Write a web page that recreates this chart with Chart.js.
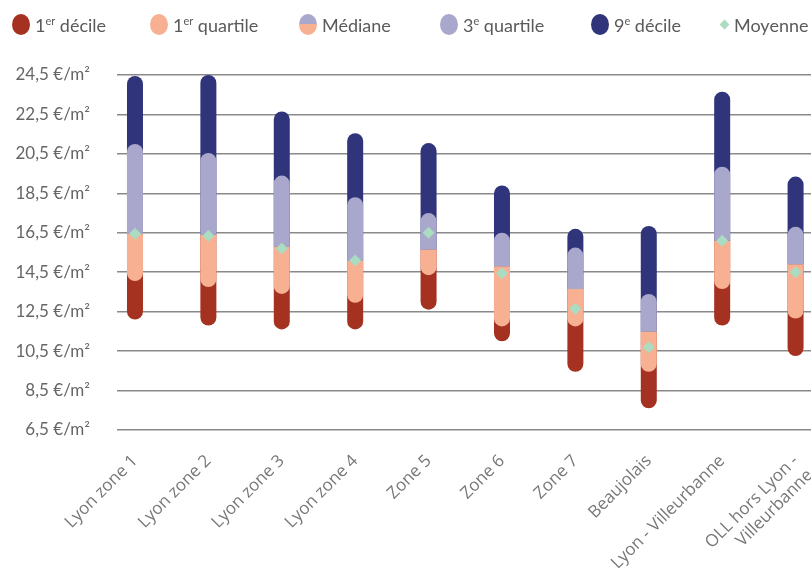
<!DOCTYPE html>
<html lang="fr">
<head>
<meta charset="utf-8">
<script src="https://cdn.jsdelivr.net/npm/chart.js@4.4.1/dist/chart.umd.min.js"></script>
<style>
  html, body { margin: 0; padding: 0; background: #fff; overflow: hidden; }
  #wrap { position: relative; width: 811px; height: 573px; overflow: hidden; }
  #chart { position: absolute; left: 0; top: 0; }
  #legend {
    position: absolute; left: 0; top: 0; width: 811px; height: 50px; z-index: 2;
    font-family: Lato, sans-serif; font-size: 18px; color: #5a5a5a;
  }
  .item { position: absolute; top: 14px; display: flex; align-items: center; white-space: nowrap; height: 21px; }
  .dot { width: 18px; height: 21px; border-radius: 50%; margin-right: 5px; }
  .diamond { width: 7px; height: 7px; transform: rotate(45deg); margin: 0 6px 0 1px; }
  sup { font-size: 11px; line-height: 0; vertical-align: 7px; }
</style>
</head>
<body>
<div id="wrap">
  <div id="legend"></div>
  <canvas id="chart" width="870" height="573"></canvas>
</div>
<script>
const zones = ['Lyon zone 1', 'Lyon zone 2', 'Lyon zone 3', 'Lyon zone 4', 'Zone 5', 'Zone 6', 'Zone 7',
    'Beaujolais', 'Lyon - Villeurbanne', ['OLL hors Lyon -', 'Villeurbanne']];

// €/m²
const decile1   = [12.1, 11.8, 11.6, 11.6, 12.6, 11.0, 9.45, 7.6, 11.8, 10.25];
const quartile1 = [14.05, 13.75, 13.4, 12.95, 14.35, 11.75, 11.75, 9.45, 13.65, 12.15];
const median    = [16.45, 16.4, 15.8, 15.1, 15.65, 14.8, 13.65, 11.5, 16.1, 14.9];
const quartile3 = [21.0, 20.55, 19.4, 18.3, 17.5, 16.5, 15.75, 13.4, 19.85, 16.8];
const decile9   = [24.45, 24.5, 22.65, 21.55, 21.05, 18.9, 16.7, 16.85, 23.65, 19.35];
const mean      = [16.45, 16.35, 15.7, 15.1, 16.5, 14.45, 12.65, 10.7, 16.1, 14.5];

const yTicks = [6.5, 8.5, 10.5, 12.5, 14.5, 16.5, 18.5, 20.5, 22.5, 24.5];

const RED = '#a53121', SALMON = '#f7b192', LAVENDER = '#a9a7cb', NAVY = '#30347b', GREEN = '#a9dcc0';

const legendItems = [
    { html: '1<sup>er</sup> décile', color: RED, left: 12 },
    { html: '1<sup>er</sup> quartile', color: SALMON, left: 150 },
    { html: 'Médiane', color: `linear-gradient(${LAVENDER} 50%, ${SALMON} 50%)`, left: 299 },
    { html: '3<sup>e</sup> quartile', color: LAVENDER, left: 440 },
    { html: '9<sup>e</sup> décile', color: NAVY, left: 591 },
    { html: 'Moyenne', color: GREEN, diamond: true, left: 720 },
];

const legend = document.getElementById('legend');
legendItems.forEach(it => {
    const d = document.createElement('div');
    d.className = 'item';
    d.style.left = it.left + 'px';
    d.innerHTML = `<span class="${it.diamond ? 'diamond' : 'dot'}" style="background:${it.color}"></span><span>${it.html}</span>`;
    legend.appendChild(d);
});

function range(lo, hi) {
    return zones.map((_, i) => ({ x: i, y: [lo[i], hi[i]] }));
}

const top8 = { topLeft: 8, topRight: 8, bottomLeft: 0, bottomRight: 0 };
const bottom8 = { topLeft: 0, topRight: 0, bottomLeft: 8, bottomRight: 8 };

const barBase = { type: 'bar', grouped: false, maxBarThickness: 16, borderSkipped: false, borderWidth: 0 };

new Chart(document.getElementById('chart'), {
    type: 'bar',
    data: {
        datasets: [
            {
                type: 'line', label: 'Moyenne', showLine: false, order: 0,
                data: zones.map((_, i) => ({ x: i, y: mean[i] })),
                pointStyle: 'rectRot', pointRadius: 6, pointBackgroundColor: GREEN, pointBorderWidth: 0,
            },
            { ...barBase, label: '3e quartile', order: 1, data: range(median, quartile3), backgroundColor: LAVENDER, borderRadius: top8 },
            { ...barBase, label: '1er quartile', order: 1, data: range(quartile1, median), backgroundColor: SALMON, borderRadius: bottom8 },
            { ...barBase, label: '9e décile', order: 2, data: range(median, decile9), backgroundColor: NAVY, borderRadius: top8 },
            { ...barBase, label: '1er décile', order: 2, data: range(decile1, median), backgroundColor: RED, borderRadius: bottom8 },
        ]
    },
    options: {
        responsive: false,
        animation: false,
        layout: { autoPadding: false, padding: { top: 75, right: 0, bottom: 0, left: 0 } },
        plugins: {
            legend: { display: false },
            tooltip: { enabled: false }
        },
        scales: {
            x: {
                type: 'linear',
                offset: false,
                min: -0.245,
                max: 10.014,
                grid: { display: false },
                border: { display: false },
                afterBuildTicks: s => { s.ticks = zones.map((_, i) => ({ value: i })); },
                afterFit: s => { s.height = 143; },
                ticks: {
                    autoSkip: false,
                    minRotation: 45,
                    maxRotation: 45,
                    padding: 13,
                    color: '#777',
                    font: { family: 'Open Sans', size: 17 },
                    callback: v => zones[v]
                }
            },
            y: {
                min: 6.5,
                max: 24.5,
                grid: { color: '#8a8a8a', lineWidth: 1.5, drawTicks: false },
                border: { display: false },
                afterBuildTicks: s => { s.ticks = yTicks.map(v => ({ value: v })); },
                afterFit: s => { s.width = 117; },
                ticks: {
                    padding: 27,
                    color: '#666',
                    font: { family: 'Lato', size: 17 },
                    callback: v => v.toFixed(1).replace('.', ',') + ' €/m²'
                }
            }
        }
    }
});
</script>
</body>
</html>
